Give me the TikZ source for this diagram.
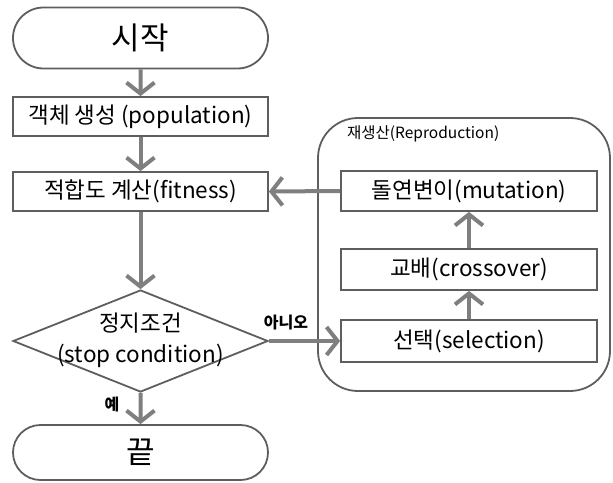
\documentclass[tikz,border=0pt]{standalone}
\usepackage{fontspec}
\setmainfont{Noto Sans CJK KR}
\usetikzlibrary{arrows.meta,shapes.geometric,shapes.misc}
\definecolor{linegray}{HTML}{7F7F7F}
\definecolor{shapegray}{HTML}{5E5E5E}
\begin{document}
\begin{tikzpicture}[x=1pt,y=-1pt,
  box/.style={draw=shapegray, line width=1.8pt, minimum width=255pt, minimum height=39pt, inner sep=0pt, font=\fontsize{22.5}{26}\selectfont},
  term/.style={draw=shapegray, line width=1.8pt, rounded rectangle, minimum width=255pt, inner sep=0pt, font=\fontsize{31}{34}\selectfont},
  dia/.style={draw=shapegray, line width=1.8pt, diamond, minimum width=255pt, minimum height=102pt, inner sep=0pt},
  conn/.style={draw=linegray, line width=4pt, -{Straight Barb[length=11pt,width=28pt]}},
  lbl/.style={font=\fontsize{16}{18}\selectfont\bfseries, inner sep=0pt},
  txt/.style={font=\fontsize{22.5}{26}\selectfont, inner sep=0pt}
]
\useasboundingbox (0,0) rectangle (613,482);
% reproduction group
\draw[draw=shapegray, line width=1.8pt, rounded corners=40pt] (318,118) rectangle (610,391);
\node[font=\fontsize{15.5}{18}\selectfont, inner sep=0pt, anchor=west] (rtitle) at (347,134) {재생산(Reproduction)};
% main flow
\node[term, minimum height=61pt] (start) at (140.5,38) {시작};
\node[box] (pop) at (140.5,116.5) {객체 생성 (population)};
\node[box] (fit) at (140.5,191.5) {적합도 계산(fitness)};
\node[dia] (stop) at (140.5,341) {};
\node[txt] (stopk) at (140.5,323) {정지조건};
\node[txt] (stope) at (140.5,356) {(stop condition)};
\node[term, minimum height=55pt] (end) at (140.5,452.5) {끝};
% reproduction boxes
\node[box, minimum width=256pt, minimum height=40pt] (mut) at (469,191) {돌연변이(mutation)};
\node[box, minimum width=256pt, minimum height=41pt] (cross) at (469,269.5) {교배(crossover)};
\node[box, minimum width=256pt, minimum height=42pt] (sel) at (469,341) {선택(selection)};
% connectors
\draw[conn] (start) -- (pop);
\draw[conn] (pop) -- (fit);
\draw[conn] (fit) -- (stop.north);
\draw[conn] (stop.south) -- (end);
\draw[conn] (stop.east) -- (sel.west);
\draw[conn] (sel) -- (cross);
\draw[conn] (cross) -- (mut);
\draw[conn] (mut.west) -- (fit.east);
% labels
\node[lbl] (yes) at (112,404) {예};
\node[lbl] (no) at (286,323) {아니오};
\end{tikzpicture}
\end{document}
